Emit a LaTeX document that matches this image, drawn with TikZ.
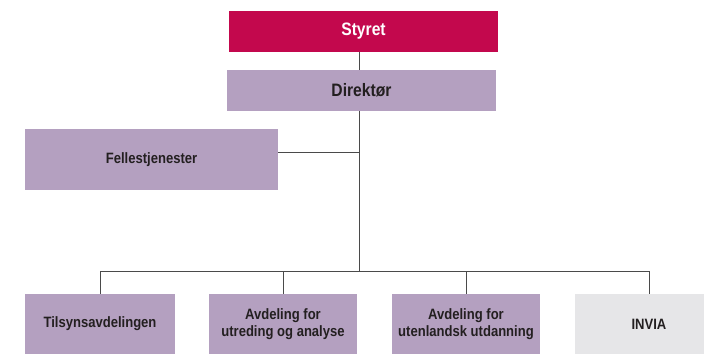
\documentclass[tikz,border=0pt]{standalone}
\usepackage{fontspec}
\setmainfont{Liberation Sans}
\newfontfamily\condfont{Liberation Sans Bold}[FakeStretch=0.87]
\definecolor{crimson}{HTML}{C3084D}
\definecolor{lilac}{HTML}{B4A0C0}
\definecolor{lightgrey}{HTML}{E6E6E8}
\definecolor{ink}{HTML}{231F20}
\definecolor{wire}{HTML}{4A4A4A}
\begin{document}
\begin{tikzpicture}[x=1pt,y=-1pt,
  box/.style={rectangle, inner sep=0pt, draw=none, align=center, text=ink},
  topbox/.style={box, minimum width=269pt, minimum height=41pt, font=\condfont\fontsize{18}{21}\selectfont},
  unitbox/.style={box, fill=lilac, minimum width=148pt, minimum height=60pt, font=\condfont\fontsize{15}{17}\selectfont},
  conn/.style={draw=wire, line width=0.9pt}]
\useasboundingbox (0,0) rectangle (704,354);
\clip (0,0) rectangle (704,354);
\node[topbox, fill=crimson, text=white] (styret) at (363.5,31.5) {Styret};
\node[topbox, fill=lilac] (direktor) at (361.5,90.5) {Direktør};
\node[box, fill=lilac, minimum width=253pt, minimum height=61pt, font=\condfont\fontsize{15}{17}\selectfont] (felles) at (151.5,159.5) {Fellestjenester};
\node[unitbox, minimum width=150pt] (tilsyn) at (100,324) {Tilsynsavdelingen};
\node[unitbox] (utred) at (283,324) {Avdeling for\\utreding og analyse};
\node[unitbox] (utenl) at (466,324) {Avdeling for\\utenlandsk utdanning};
\node[unitbox, fill=lightgrey] (invia) at (649,324) {INVIA};
\coordinate (spine) at (359,271);
\coordinate (fj) at (278,152);
\draw[conn] (styret.south -| spine) -- (direktor.north -| spine);
\draw[conn] (direktor.south -| spine) -- (spine);
\draw[conn] (fj) -- (fj -| spine);
\draw[conn] (tilsyn.north) -- (tilsyn.north |- spine) -- (invia.north |- spine) -- (invia.north);
\draw[conn] (utred.north) -- (utred.north |- spine);
\draw[conn] (utenl.north) -- (utenl.north |- spine);
\end{tikzpicture}
\end{document}
